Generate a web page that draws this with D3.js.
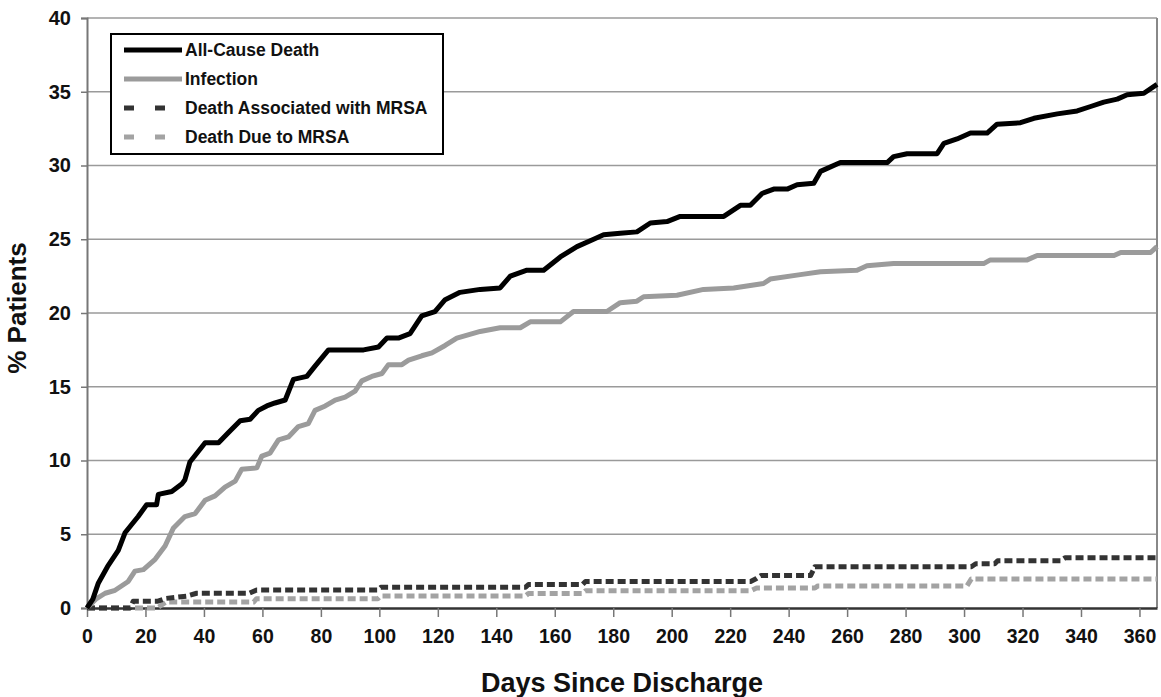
<!DOCTYPE html>
<html><head><meta charset="utf-8">
<script src="https://cdn.jsdelivr.net/npm/d3@7"></script>
<style>body{margin:0;background:#fff;} text{font-family:"Liberation Sans",Arial,sans-serif;font-weight:bold;fill:#111;}</style>
</head><body><svg id="c" width="1161" height="697"></svg>
<script>
const xTicks = d3.range(0, 361, 20);
const yTicks = [0,5,10,15,20,25,30,35,40];
const seriesNames = ["All-Cause Death","Infection","Death Associated with MRSA","Death Due to MRSA"];
const allCause = [[0,0],[2,0.6],[3.9,1.7],[7,2.8],[10.7,3.9],[13,5.1],[17.5,6.2],[20.4,7.0],[23.8,7.0],[24.4,7.7],[29,7.9],[32.4,8.4],[33.5,8.7],[35.2,9.9],[39.2,10.9],[40.4,11.2],[45,11.2],[48.4,11.9],[52.4,12.7],[55.8,12.8],[58.6,13.4],[61.5,13.7],[64.3,13.9],[67.8,14.1],[70.6,15.5],[75.2,15.7],[78,16.4],[82.6,17.5],[94.6,17.5],[99.7,17.7],[102.6,18.3],[106.5,18.3],[110.5,18.6],[114.5,19.8],[119,20.1],[122.5,20.9],[127.6,21.4],[134.5,21.6],[141.3,21.7],[144.8,22.5],[150.5,22.9],[156.2,22.9],[161.9,23.8],[167.6,24.5],[173.3,25.0],[176.7,25.3],[182.4,25.4],[188.1,25.5],[192.7,26.1],[198.4,26.2],[202.9,26.55],[217.8,26.55],[223.5,27.3],[226.9,27.3],[230.9,28.1],[234.9,28.4],[239.5,28.4],[242.9,28.7],[248.6,28.8],[250.9,29.6],[257.7,30.2],[273.7,30.2],[275.9,30.6],[280.5,30.8],[290.8,30.8],[293.1,31.5],[297.6,31.8],[302.2,32.2],[307.9,32.2],[311.3,32.8],[319.3,32.9],[323.9,33.2],[331.9,33.5],[338.7,33.7],[343.3,34.0],[347.8,34.3],[352.4,34.5],[355.8,34.8],[361.5,34.9],[366,35.5]];
const infection = [[0,0],[3,0.6],[6.2,1.0],[9.6,1.2],[14.1,1.8],[16.4,2.5],[19.3,2.6],[23.3,3.3],[26.7,4.2],[29.5,5.4],[33.5,6.2],[37,6.4],[40.4,7.3],[43.8,7.6],[47.2,8.2],[50.7,8.6],[52.9,9.4],[58.1,9.5],[59.8,10.3],[62.6,10.5],[65.5,11.4],[68.9,11.6],[72.3,12.3],[75.7,12.5],[78,13.4],[81.5,13.7],[84.9,14.1],[88.3,14.3],[91.7,14.7],[94,15.4],[97.4,15.7],[100.9,15.9],[103.1,16.5],[107.7,16.5],[110,16.8],[114.5,17.1],[118,17.3],[122.5,17.8],[126.5,18.3],[134.5,18.75],[141.3,19.0],[148.2,19.0],[151.6,19.4],[161.9,19.4],[166.4,20.1],[177.8,20.1],[182.4,20.7],[188.1,20.8],[190.4,21.1],[201.8,21.2],[210.9,21.6],[221.2,21.7],[231.4,22.0],[233.7,22.3],[244,22.6],[250.9,22.8],[263.4,22.9],[266.8,23.2],[275.9,23.35],[306.7,23.35],[309,23.6],[321.6,23.6],[325,23.9],[351.3,23.9],[353.6,24.1],[363.8,24.1],[366,24.5]];
const assocMRSA = [[0,0],[14.7,0],[15.8,0.45],[24,0.45],[27,0.65],[34,0.8],[37.5,1.0],[55.5,1.0],[58,1.22],[99.5,1.22],[100.5,1.4],[150,1.4],[151,1.6],[169.5,1.6],[170.5,1.8],[227,1.8],[229,2.0],[230.5,2.2],[247.5,2.2],[249,2.8],[302.5,2.8],[304,3.0],[310.5,3.0],[311.5,3.2],[333,3.2],[334.5,3.4],[366,3.4]];
const dueMRSA = [[0,0],[24,0],[27,0.4],[57,0.4],[58,0.63],[99.5,0.63],[100.5,0.82],[150,0.82],[151,0.98],[169.5,0.98],[170.5,1.17],[227,1.17],[229,1.36],[249,1.36],[250,1.5],[301,1.5],[302.5,1.97],[366,1.97]];

const svg = d3.select("#c");
const L = 87, R = 1157, T = 18, B = 608;
const x = d3.scaleLinear().domain([0,366]).range([L,R]);
const y = d3.scaleLinear().domain([0,40]).range([B,T]);

// gridlines
svg.append("g").selectAll("line").data(yTicks.filter(d=>d>0)).join("line")
  .attr("x1",L).attr("x2",R).attr("y1",d=>y(d)).attr("y2",d=>y(d))
  .attr("stroke","#9a9a9a").attr("stroke-width",1.5);
// right border
svg.append("line").attr("x1",R).attr("x2",R).attr("y1",T).attr("y2",B).attr("stroke","#888").attr("stroke-width",2);

// y axis
const ya = svg.append("g").attr("transform",`translate(${L},0)`)
  .call(d3.axisLeft(y).tickValues(yTicks).tickSize(6).tickPadding(10));
ya.select(".domain").attr("stroke","#777").attr("stroke-width",2);
ya.selectAll(".tick line").attr("stroke","#777").attr("stroke-width",1.5);
ya.selectAll("text").style("font-size","20px").attr("fill","#111");

// x axis
const xa = svg.append("g").attr("transform",`translate(0,${B})`)
  .call(d3.axisBottom(x).tickValues(xTicks).tickSize(9).tickPadding(12).tickSizeOuter(0));
xa.select(".domain").attr("stroke","#333").attr("stroke-width",2.5);
xa.selectAll(".tick line").attr("stroke","#777").attr("stroke-width",1.5);
xa.selectAll("text").style("font-size","19.5px").attr("fill","#111");

// axis titles
svg.append("text").attr("x",622).attr("y",692).attr("text-anchor","middle").style("font-size","27px").text("Days Since Discharge");
svg.append("text").attr("transform","translate(26,308) rotate(-90)").attr("text-anchor","middle").style("font-size","26px").text("% Patients");

const line = d3.line().x(d=>x(d[0])).y(d=>y(d[1]));
const styles = [
  {data: allCause, color:"#000", dash:null},
  {data: infection, color:"#9b9b9b", dash:null},
  {data: assocMRSA, color:"#333", dash:"8,4"},
  {data: dueMRSA, color:"#a3a3a3", dash:"8,4"}
];
const g = svg.append("g");
[3,2,1,0].forEach(i=>{
  const s = styles[i];
  g.append("path").datum(s.data).attr("d",line).attr("fill","none")
    .attr("stroke",s.color).attr("stroke-width",5).attr("stroke-linejoin","round")
    .attr("stroke-dasharray",s.dash);
});

// legend
const lg = svg.append("g");
lg.append("rect").attr("x",111).attr("y",34).attr("width",332).attr("height",120)
  .attr("fill","#fff").attr("stroke","#000").attr("stroke-width",2);
const legendY = [50,79,108,137];
seriesNames.forEach((n,i)=>{
  const s = styles[i];
  lg.append("line").attr("x1",124).attr("x2",182).attr("y1",legendY[i]).attr("y2",legendY[i])
    .attr("stroke",s.color).attr("stroke-width",5).attr("stroke-dasharray",s.dash?"10,21":null);
  lg.append("text").attr("x",185).attr("y",legendY[i]+6).style("font-size","17.5px").text(n);
});
</script></body></html>
